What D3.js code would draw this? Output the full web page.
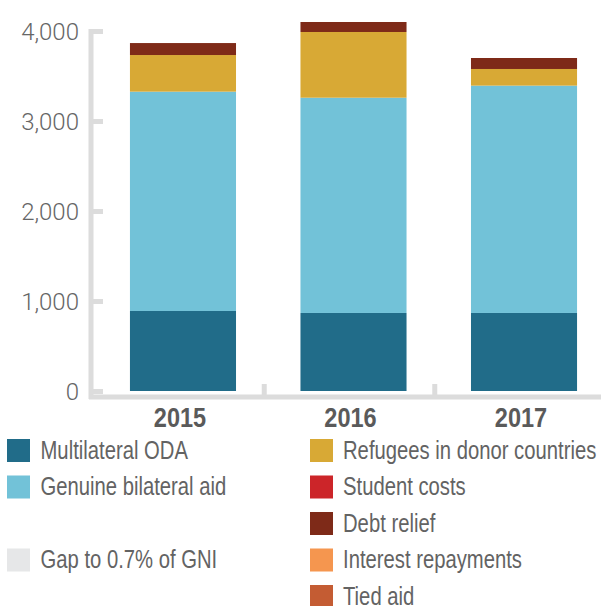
<!DOCTYPE html>
<html>
<head>
<meta charset="utf-8">
<script src="https://cdn.jsdelivr.net/npm/d3@7"></script>
<style>
  body { margin: 0; background: #fff; }
  svg { display: block; }
  .ytick text { font-family: Roboto, "Liberation Sans", sans-serif; font-weight: 300; font-size: 24px; fill: #666; }
  .xlab { font-family: "Liberation Sans", Arial, sans-serif; font-weight: bold; font-size: 28px; fill: #5a5a5a; }
  .legend text { font-family: "Liberation Sans", Arial, sans-serif; font-size: 25px; fill: #636363; }
</style>
</head>
<body>
<div id="chart"></div>
<script>
// data (millions)
var years = ["2015", "2016", "2017"];
var series = ["Multilateral ODA", "Genuine bilateral aid", "Gap to 0.7% of GNI",
              "Refugees in donor countries", "Student costs", "Debt relief",
              "Interest repayments", "Tied aid"];
var colors = ["#216c89", "#72c2d8", "#e6e7e8", "#d8a935", "#cc2529", "#7e2a18", "#f5964f", "#c45c33"];

var multilateral = [889, 867, 867];
var genuine = [2437, 2392, 2526];
var refugees = [407, 730, 185];
var students = [0, 0, 0];
var debt = [133, 111, 122];
var interest = [0, 0, 0];
var tied = [0, 0, 0];
var yTicks = [0, 1000, 2000, 3000, 4000];

// stacking order, bottom to top
var stackOrder = ["Multilateral ODA", "Genuine bilateral aid", "Refugees in donor countries",
                  "Student costs", "Debt relief", "Interest repayments", "Tied aid"];
var valuesBySeries = {
  "Multilateral ODA": multilateral,
  "Genuine bilateral aid": genuine,
  "Refugees in donor countries": refugees,
  "Student costs": students,
  "Debt relief": debt,
  "Interest repayments": interest,
  "Tied aid": tied
};

// legend columns: [series, row]
var legendLeft = [["Multilateral ODA", 0], ["Genuine bilateral aid", 1], ["Gap to 0.7% of GNI", 3]];
var legendRight = [["Refugees in donor countries", 0], ["Student costs", 1], ["Debt relief", 2],
                   ["Interest repayments", 3], ["Tied aid", 4]];

var width = 601, height = 606;
var narrow = 0.81; // condensed look, no narrow font installed
var color = d3.scaleOrdinal().domain(series).range(colors);

var table = years.map(function(y, i) {
  var row = { year: y };
  stackOrder.forEach(function(s) { row[s] = valuesBySeries[s][i]; });
  return row;
});
var stacked = d3.stack().keys(stackOrder)(table);

var x = d3.scaleBand().domain(years).range([65.5, 641.5]).padding(0.378);
var y = d3.scaleLinear().domain([0, 4000]).range([391, 31]);

var svg = d3.select("#chart").append("svg")
  .attr("width", width)
  .attr("height", height);

var axisX = 91, baseY = 397;

function squeeze(sel, f) {
  sel.each(function() {
    var w = this.getComputedTextLength();
    d3.select(this).attr("textLength", w * f).attr("lengthAdjust", "spacingAndGlyphs");
  });
}

// axis lines
svg.append("line")
  .attr("x1", axisX).attr("x2", axisX)
  .attr("y1", y(4000) - 2).attr("y2", baseY + 2)
  .attr("stroke", "#dcdcdc").attr("stroke-width", 5);
svg.append("line")
  .attr("x1", axisX - 2).attr("x2", width)
  .attr("y1", baseY).attr("y2", baseY)
  .attr("stroke", "#dcdcdc").attr("stroke-width", 5);

// y axis ticks + labels
var yAxis = d3.axisLeft(y).tickValues(yTicks).tickSize(-11).tickPadding(13)
  .tickFormat(d3.format(","));
var gy = svg.append("g")
  .attr("class", "ytick")
  .attr("transform", "translate(" + (axisX + 1) + ",0)")
  .call(yAxis);
gy.select(".domain").remove();
gy.selectAll(".tick line").attr("stroke", "#dcdcdc").attr("stroke-width", 5);
gy.selectAll(".tick text").attr("dy", "0.35em");

// x separators between bands
var step = x.step();
years.slice(1).forEach(function(yr) {
  var sx = x(yr) - x.paddingInner() * step / 2 - 4;
  svg.append("line")
    .attr("x1", sx).attr("x2", sx)
    .attr("y1", baseY).attr("y2", baseY - 13)
    .attr("stroke", "#dcdcdc").attr("stroke-width", 5);
});

// bars
svg.append("g")
  .selectAll("g")
  .data(stacked).enter()
  .append("g")
  .attr("fill", function(d) { return color(d.key); })
  .selectAll("rect")
  .data(function(d) { return d; }).enter()
  .append("rect")
  .attr("x", function(d) { return x(d.data.year); })
  .attr("width", x.bandwidth())
  .attr("y", function(d) { return y(d[1]); })
  .attr("height", function(d) { return y(d[0]) - y(d[1]); });

// year labels
var xl = svg.append("g")
  .selectAll("text")
  .data(years).enter()
  .append("text")
  .attr("class", "xlab")
  .attr("x", function(d) { return x(d) + x.bandwidth() / 2 - 3; })
  .attr("y", 427)
  .attr("text-anchor", "middle")
  .text(function(d) { return d; });
squeeze(xl, 0.84);

// legend
function drawLegend(items, sx, tx) {
  var g = svg.append("g").attr("class", "legend");
  var row = g.selectAll("g")
    .data(items).enter()
    .append("g")
    .attr("transform", function(d) { return "translate(0," + (451 + d[1] * 36.5) + ")"; });
  row.append("rect")
    .attr("x", sx).attr("y", -12)
    .attr("width", 23).attr("height", 23)
    .attr("fill", function(d) { return color(d[0]); });
  var t = row.append("text")
    .attr("x", tx).attr("y", 7.5)
    .text(function(d) { return d[0]; });
  squeeze(t, narrow);
}
drawLegend(legendLeft, 7, 40.5);
drawLegend(legendRight, 310, 343);
</script>
</body>
</html>
